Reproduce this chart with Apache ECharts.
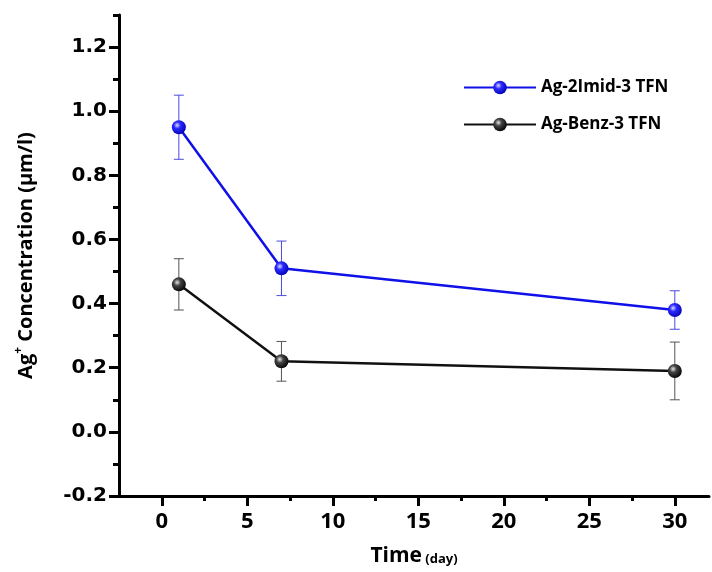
<!DOCTYPE html>
<html>
<head>
<meta charset="utf-8">
<script src="https://cdn.jsdelivr.net/npm/echarts@6/dist/echarts.min.js"></script>
<style>
  html, body { margin: 0; padding: 0; background: #fff; }
  #chart { width: 712px; height: 572px; }
</style>
</head>
<body>
<div id="chart"></div>
<script>
// data
const days = [1, 7, 30]
const imidMean = [0.95, 0.51, 0.38]
const imidErr = [0.10, 0.085, 0.06]
const benzMean = [0.46, 0.22, 0.19]
const benzErr = [0.08, 0.062, 0.09]

const xMajor = [0, 5, 10, 15, 20, 25, 30]
const xMinor = [2.5, 7.5, 12.5, 17.5, 22.5, 27.5]
const yMajor = [-0.2, 0, 0.2, 0.4, 0.6, 0.8, 1.0, 1.2]
const yMinor = [-0.1, 0.1, 0.3, 0.5, 0.7, 0.9, 1.1, 1.3]

const FONT = '"Open Sans", sans-serif'

function ball(light, mid, dark) {
    return {
        type: 'radial', x: 0.38, y: 0.36, r: 0.7,
        colorStops: [
            { offset: 0, color: light },
            { offset: 0.35, color: mid },
            { offset: 1, color: dark }
        ]
    }
}

function errData(mean, err) {
    return days.map((d, i) => [d, mean[i] - err[i], mean[i] + err[i]])
}

function errSeries(mean, err, color) {
    return {
        type: 'custom',
        silent: true,
        z: 1,
        data: errData(mean, err),
        encode: { x: 0, y: [1, 2] },
        renderItem(params, api) {
            const lo = api.coord([api.value(0), api.value(1)])
            const hi = api.coord([api.value(0), api.value(2)])
            const w = 5
            const style = { stroke: color, lineWidth: 1 }
            return {
                type: 'group',
                children: [
                    { type: 'line', shape: { x1: lo[0], y1: lo[1], x2: hi[0], y2: hi[1] }, style },
                    { type: 'line', shape: { x1: hi[0] - w, y1: hi[1], x2: hi[0] + w, y2: hi[1] }, style },
                    { type: 'line', shape: { x1: lo[0] - w, y1: lo[1], x2: lo[0] + w, y2: lo[1] }, style }
                ]
            }
        }
    }
}

const chart = echarts.init(document.getElementById('chart'))

const axisBase = {
    type: 'value',
    splitLine: { show: false },
    axisLine: { show: true, onZero: false, lineStyle: { color: '#000', width: 3 } }
}
const hiddenLine = { show: false, onZero: false }

chart.setOption({
    animation: false,
    grid: { left: 119, right: 3, top: 15, bottom: 74 },
    legend: {
        left: 458,
        top: 74,
        orient: 'vertical',
        itemWidth: 72,
        itemHeight: 17,
        itemGap: 20,
        textStyle: { fontFamily: FONT, fontSize: 17, fontWeight: 'bold', color: '#000' },
        data: ['Ag-2Imid-3 TFN', 'Ag-Benz-3 TFN']
    },
    xAxis: [{
        ...axisBase,
        min: -2.5,
        max: 32,
        interval: 2.5,
        axisTick: { show: true, customValues: xMajor, length: 10, lineStyle: { width: 3, color: '#000' } },
        axisLabel: { customValues: xMajor, margin: 15, fontFamily: FONT, fontSize: 22, fontWeight: 'bold', color: '#000' },
        name: '{a|Time} {b|(day)}',
        nameLocation: 'middle',
        nameGap: 50,
        nameTextStyle: {
            rich: {
                a: { fontFamily: FONT, fontSize: 21, fontWeight: 'bold', color: '#000' },
                b: { fontFamily: FONT, fontSize: 13, fontWeight: 'bold', color: '#000', padding: [5, 0, 0, 0] }
            }
        }
    }, {
        ...axisBase,
        min: -2.5,
        max: 32,
        interval: 2.5,
        position: 'bottom',
        axisLine: hiddenLine,
        axisLabel: { show: false },
        axisTick: { show: true, customValues: xMinor, length: 5, lineStyle: { width: 3, color: '#000' } }
    }],
    yAxis: [{
        ...axisBase,
        min: -0.2,
        max: 1.3,
        interval: 0.1,
        axisTick: { show: true, customValues: yMajor, length: 10, lineStyle: { width: 3, color: '#000' } },
        axisLabel: {
            customValues: yMajor,
            margin: 12,
            fontFamily: '"DejaVu Sans", sans-serif',
            fontSize: 20,
            fontWeight: 'bold',
            color: '#000',
            formatter: v => v.toFixed(1)
        },
        name: '{a|Ag}{s|+}{a| Concentration (μm/l)}',
        nameLocation: 'middle',
        nameRotate: 90,
        nameGap: 80,
        nameTextStyle: {
            rich: {
                a: { fontFamily: FONT, fontSize: 20, fontWeight: 'bold', color: '#000' },
                s: { fontFamily: FONT, fontSize: 12, fontWeight: 'bold', color: '#000', padding: [0, 0, 14, 0] }
            }
        }
    }, {
        ...axisBase,
        min: -0.2,
        max: 1.3,
        interval: 0.1,
        position: 'left',
        axisLine: hiddenLine,
        axisLabel: { show: false },
        axisTick: { show: true, customValues: yMinor, length: 6, lineStyle: { width: 3, color: '#000' } }
    }],
    series: [
        errSeries(imidMean, imidErr, '#4a4ae0'),
        errSeries(benzMean, benzErr, '#555'),
        {
            name: 'Ag-2Imid-3 TFN',
            type: 'line',
            z: 3,
            data: days.map((d, i) => [d, imidMean[i]]),
            symbol: 'circle',
            symbolSize: 14,
            lineStyle: { color: '#1010e8', width: 2.5 },
            itemStyle: { color: ball('#dcdcff', '#2a2aff', '#0000b0'), borderWidth: 0 }
        },
        {
            name: 'Ag-Benz-3 TFN',
            type: 'line',
            z: 3,
            data: days.map((d, i) => [d, benzMean[i]]),
            symbol: 'circle',
            symbolSize: 14,
            lineStyle: { color: '#111', width: 2.5 },
            itemStyle: { color: ball('#e8e8e8', '#444', '#000'), borderWidth: 0 }
        }
    ]
})
</script>
</body>
</html>
